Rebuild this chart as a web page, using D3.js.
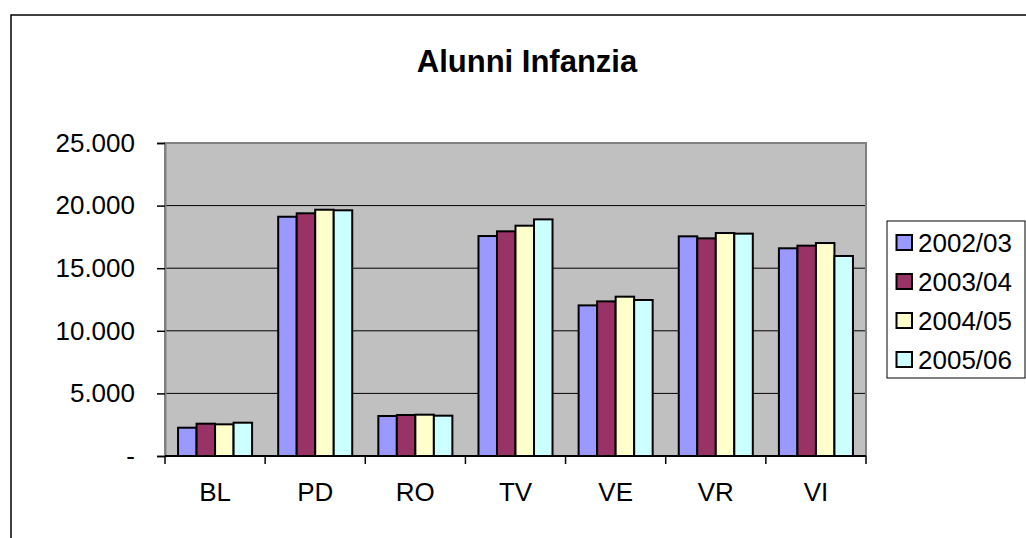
<!DOCTYPE html>
<html>
<head>
<meta charset="utf-8">
<script src="https://cdn.jsdelivr.net/npm/d3@7"></script>
<style>
  html, body { margin: 0; padding: 0; background: #fff; }
  svg { display: block; font-family: "Liberation Sans", Arial, sans-serif; }
</style>
</head>
<body>
<svg id="chart" width="1026" height="538"></svg>
<script>
const categories = ["BL", "PD", "RO", "TV", "VE", "VR", "VI"];
const seriesNames = ["2002/03", "2003/04", "2004/05", "2005/06"];
const s2002 = [2260, 19110, 3195, 17570, 12030, 17545, 16590];
const s2003 = [2580, 19385, 3275, 17945, 12350, 17385, 16800];
const s2004 = [2530, 19670, 3300, 18395, 12725, 17810, 17010];
const s2005 = [2660, 19625, 3220, 18900, 12460, 17760, 15975];
const seriesValues = [s2002, s2003, s2004, s2005];
const yTicks = [0, 5000, 10000, 15000, 20000, 25000];
const yTickLabels = ["-", "5.000", "10.000", "15.000", "20.000", "25.000"];
const colors = ["#9999FF", "#993366", "#FFFFCC", "#CCFFFF"];
const title = "Alunni Infanzia";

const svg = d3.select("#chart");
const W = 1026, H = 538;
const plot = { left: 165, right: 866, top: 143, bottom: 456 };

// outer chart border
svg.append("rect")
  .attr("x", 11).attr("y", 15)
  .attr("width", W + 10).attr("height", H + 10)
  .attr("fill", "#fff").attr("stroke", "#000").attr("stroke-width", 1.5);

// title
svg.append("text")
  .attr("x", 527).attr("y", 72)
  .attr("text-anchor", "middle")
  .attr("font-size", 31).attr("font-weight", "bold")
  .text(title);

const x0 = d3.scaleBand().domain(categories).range([plot.left, plot.right]).padding(0);
const x1 = d3.scaleBand().domain(seriesNames).range([0, x0.bandwidth()])
  .paddingInner(0).paddingOuter(0.705);
const y = d3.scaleLinear().domain([0, 25000]).range([plot.bottom, plot.top]);

// plot background
svg.append("rect")
  .attr("x", plot.left).attr("y", plot.top)
  .attr("width", plot.right - plot.left).attr("height", plot.bottom - plot.top)
  .attr("fill", "#C0C0C0");

// gridlines
svg.append("g").selectAll("line").data(yTicks.filter(d => d > 0)).join("line")
  .attr("x1", plot.left).attr("x2", plot.right)
  .attr("y1", d => y(d)).attr("y2", d => y(d))
  .attr("stroke", "#000").attr("stroke-width", 1);

// plot border (gray)
svg.append("rect")
  .attr("x", plot.left).attr("y", plot.top)
  .attr("width", plot.right - plot.left).attr("height", plot.bottom - plot.top)
  .attr("fill", "none").attr("stroke", "#808080").attr("stroke-width", 2);

// bars
const g = svg.append("g");
seriesNames.forEach((s, si) => {
  g.append("g").selectAll("rect").data(categories).join("rect")
    .attr("x", c => x0(c) + x1(s))
    .attr("y", (c, i) => y(seriesValues[si][i]))
    .attr("width", x1.bandwidth())
    .attr("height", (c, i) => y(0) - y(seriesValues[si][i]))
    .attr("fill", colors[si])
    .attr("stroke", "#000").attr("stroke-width", 2);
});

// y axis
const yAxis = d3.axisLeft(y).tickValues(yTicks)
  .tickFormat((d, i) => yTickLabels[i]).tickSize(8).tickPadding(22);
const ya = svg.append("g").attr("transform", `translate(${plot.left},0)`).call(yAxis);
ya.select(".domain").attr("stroke", "#808080").attr("stroke-width", 2);
ya.selectAll(".tick line").attr("stroke", "#000").attr("stroke-width", 1.5);
ya.selectAll(".tick text").attr("font-size", 26).attr("fill", "#000")
  .attr("font-family", "Liberation Sans, Arial, sans-serif");

// x axis line
svg.append("line")
  .attr("x1", plot.left).attr("x2", plot.right)
  .attr("y1", y(0)).attr("y2", y(0))
  .attr("stroke", "#000").attr("stroke-width", 2);

// x category boundary ticks
const bounds = categories.map(c => x0(c)).concat([x0.range()[1]]);
svg.append("g").selectAll("line").data(bounds).join("line")
  .attr("x1", d => d).attr("x2", d => d)
  .attr("y1", y(0)).attr("y2", y(0) + 8)
  .attr("stroke", "#000").attr("stroke-width", 1.5);

// x labels
svg.append("g").selectAll("text").data(categories).join("text")
  .attr("x", c => x0(c) + x0.bandwidth() / 2)
  .attr("y", 501)
  .attr("text-anchor", "middle")
  .attr("font-size", 26)
  .text(c => c);

// legend
const lg = svg.append("g");
lg.append("rect")
  .attr("x", 887).attr("y", 221).attr("width", 138).attr("height", 157)
  .attr("fill", "#fff").attr("stroke", "#000").attr("stroke-width", 1);
seriesNames.forEach((s, i) => {
  const cy = 242.5 + i * 39;
  lg.append("rect")
    .attr("x", 896.5).attr("y", cy - 7.5).attr("width", 15.5).attr("height", 15)
    .attr("fill", colors[i]).attr("stroke", "#000").attr("stroke-width", 2);
  lg.append("text")
    .attr("x", 918).attr("y", cy + 9)
    .attr("font-size", 26)
    .text(s);
});
</script>
</body>
</html>
